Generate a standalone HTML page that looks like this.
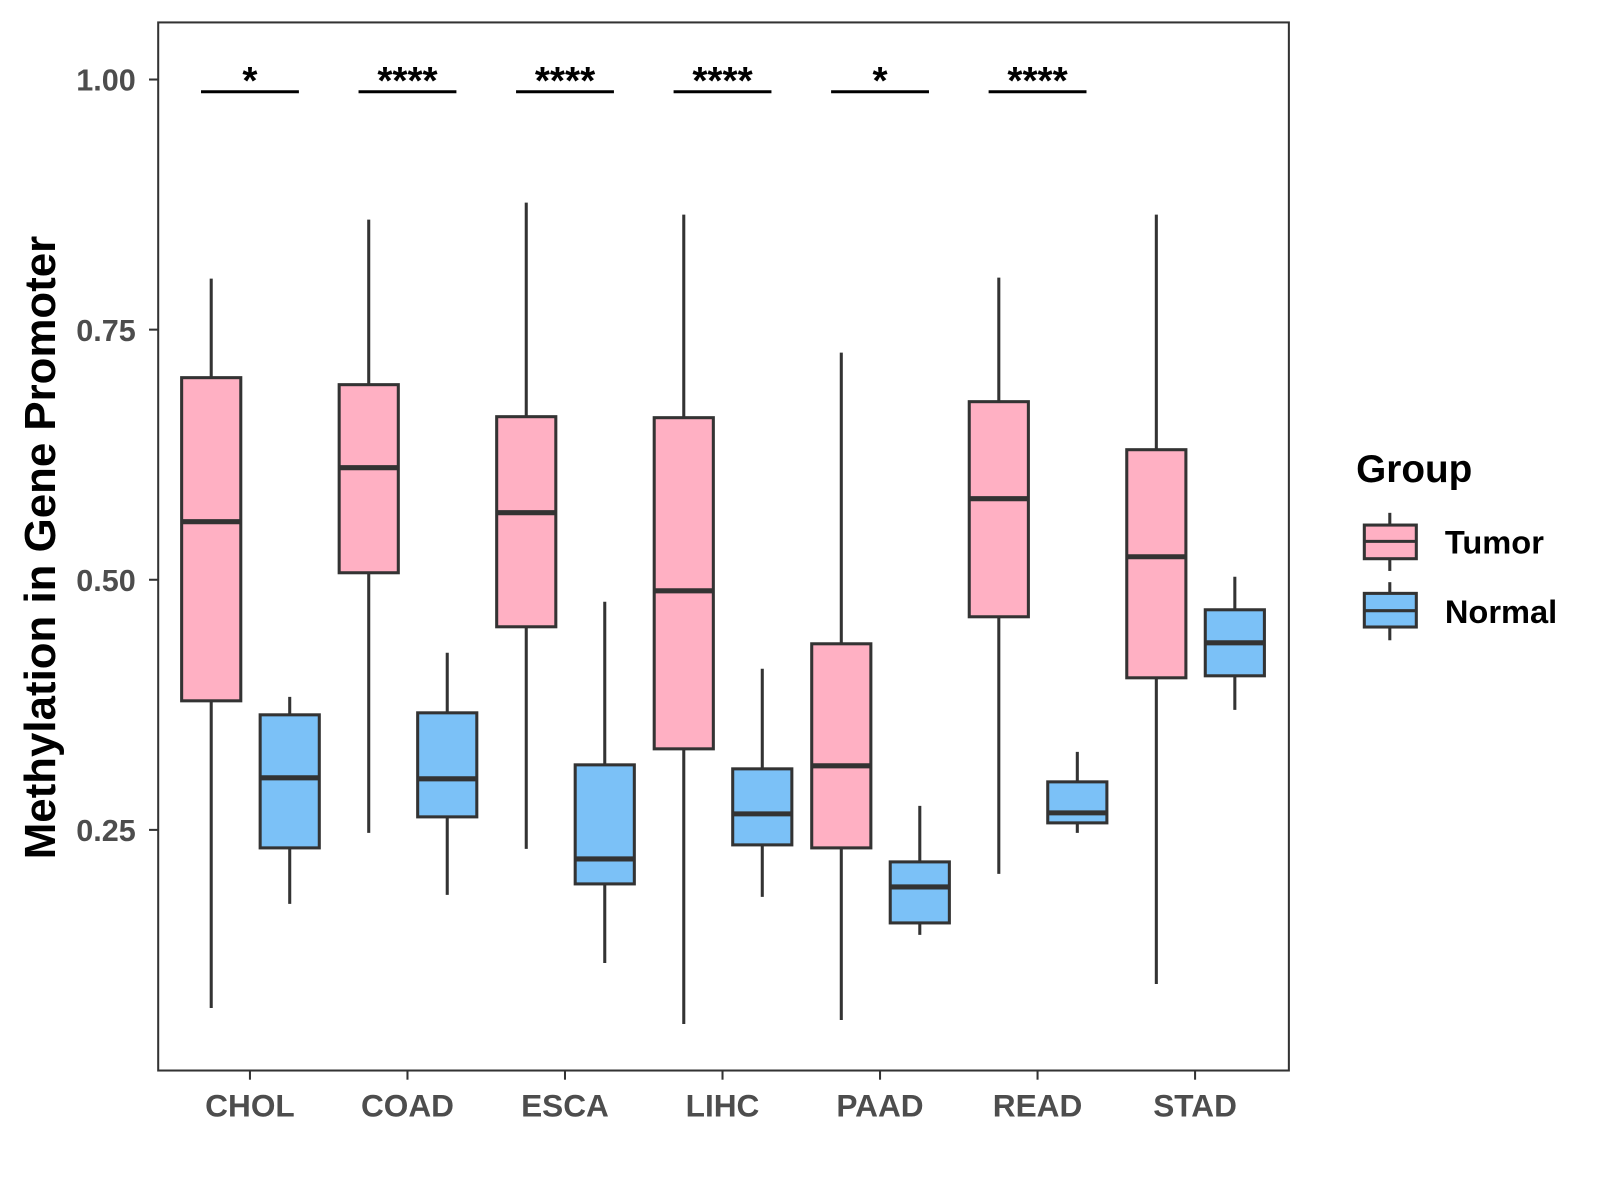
<!DOCTYPE html>
<html><head><meta charset="utf-8"><style>body{margin:0;background:#fff}svg{display:block;font-family:"Liberation Sans",Arial,sans-serif}</style></head>
<body>
<svg id="chart" width="1600" height="1200" viewBox="0 0 1569 1177" xmlns="http://www.w3.org/2000/svg">
<rect x="0" y="0" width="1569" height="1177" fill="#fff"/>
<rect x="155" y="22" width="1109" height="1028" fill="none" stroke="#333" stroke-width="2"/>
<g id="marks"></g>
<text transform="translate(54,537) rotate(-90)" text-anchor="middle" font-size="43" font-weight="bold" fill="#000">Methylation in Gene Promoter</text>
<g>
<text x="1330" y="473" font-size="38" font-weight="bold">Group</text>
<line x1="1363" y1="503" x2="1363" y2="560" stroke="#333" stroke-width="3"/>
<rect x="1338" y="515" width="51" height="33" fill="#FFB0C3" stroke="#333" stroke-width="3"/>
<line x1="1338" y1="531" x2="1389" y2="531" stroke="#333" stroke-width="3"/>
<text x="1417" y="543" font-size="32" font-weight="bold">Tumor</text>
<line x1="1363" y1="571" x2="1363" y2="628" stroke="#333" stroke-width="3"/>
<rect x="1338" y="582" width="51" height="33" fill="#7BC1F7" stroke="#333" stroke-width="3"/>
<line x1="1338" y1="599" x2="1389" y2="599" stroke="#333" stroke-width="3"/>
<text x="1417" y="611" font-size="32" font-weight="bold">Normal</text>
</g>
</svg>
<script>
const categories=["CHOL","COAD","ESCA","LIHC","PAAD","READ","STAD"];
// [low, q1, median, q3, high]
const tumorStats=[[0.072,0.379,0.558,0.702,0.801],[0.247,0.507,0.612,0.695,0.860],[0.231,0.453,0.567,0.663,0.877],[0.056,0.331,0.489,0.662,0.865],[0.060,0.232,0.314,0.436,0.727],[0.206,0.463,0.581,0.678,0.802],[0.096,0.402,0.523,0.630,0.865]];
const normalStats=[[0.176,0.232,0.302,0.365,0.383],[0.185,0.263,0.301,0.367,0.427],[0.117,0.196,0.221,0.315,0.478],[0.183,0.235,0.266,0.311,0.411],[0.145,0.157,0.193,0.218,0.274],[0.247,0.257,0.267,0.298,0.328],[0.370,0.404,0.437,0.470,0.503]];
const sigLabels=["*","****","****","****","*","****",""];
const yTicks=[0.25,0.5,0.75,1.0];
const yTickLabels=["0.25","0.50","0.75","1.00"];
const NS="http://www.w3.org/2000/svg";
const g=document.getElementById('marks');
function y(v){return 78+(1-v)*981.3;}
function x(i){return 245+i*154.5;}
function el(t,a){const e=document.createElementNS(NS,t);for(const k in a)e.setAttribute(k,a[k]);g.appendChild(e);return e;}
yTicks.forEach((v,i)=>{
 const t=el('line',{x1:146,x2:155,y1:y(v),y2:y(v),stroke:'#333','stroke-width':2});
 
 
 const l=el('text',{x:133,y:y(v)+11,'text-anchor':'end','font-size':30,'font-weight':'bold',fill:'#4d4d4d'});
 l.textContent=yTickLabels[i];
 
 
});
function box(cx,s,fill,name){
 const w=58;
 const wl=el('line',{x1:cx,x2:cx,y1:y(s[4]),y2:y(s[0]),stroke:'#333','stroke-width':3});
 
 
 const r=el('rect',{x:cx-w/2,y:y(s[3]),width:w,height:y(s[1])-y(s[3]),fill:fill,stroke:'#333','stroke-width':3});
 
 
 const m=el('line',{x1:cx-w/2,x2:cx+w/2,y1:y(s[2]),y2:y(s[2]),stroke:'#333','stroke-width':5});
 
 
}
categories.forEach((c,i)=>{
 const cx=x(i);
 box(cx-38,tumorStats[i],'#FFB0C3','tumor-'+c.toLowerCase());
 box(cx+39,normalStats[i],'#7BC1F7','normal-'+c.toLowerCase());
 const t=el('line',{x1:cx,x2:cx,y1:1050,y2:1059,stroke:'#333','stroke-width':2});
 
 
 const l=el('text',{x:cx,y:1095,'text-anchor':'middle','font-size':31,'font-weight':'bold',fill:'#4d4d4d'});
 l.textContent=c;
 
 
 if(sigLabels[i]){
  const b=el('line',{x1:cx-48,x2:cx+48,y1:90,y2:90,stroke:'#000','stroke-width':3});
  
  
  const s=el('text',{x:cx,y:92,'text-anchor':'middle','font-size':38,'font-weight':'bold',fill:'#000'});
  s.textContent=sigLabels[i];
  
  
 }
});
</script>
</body></html>
